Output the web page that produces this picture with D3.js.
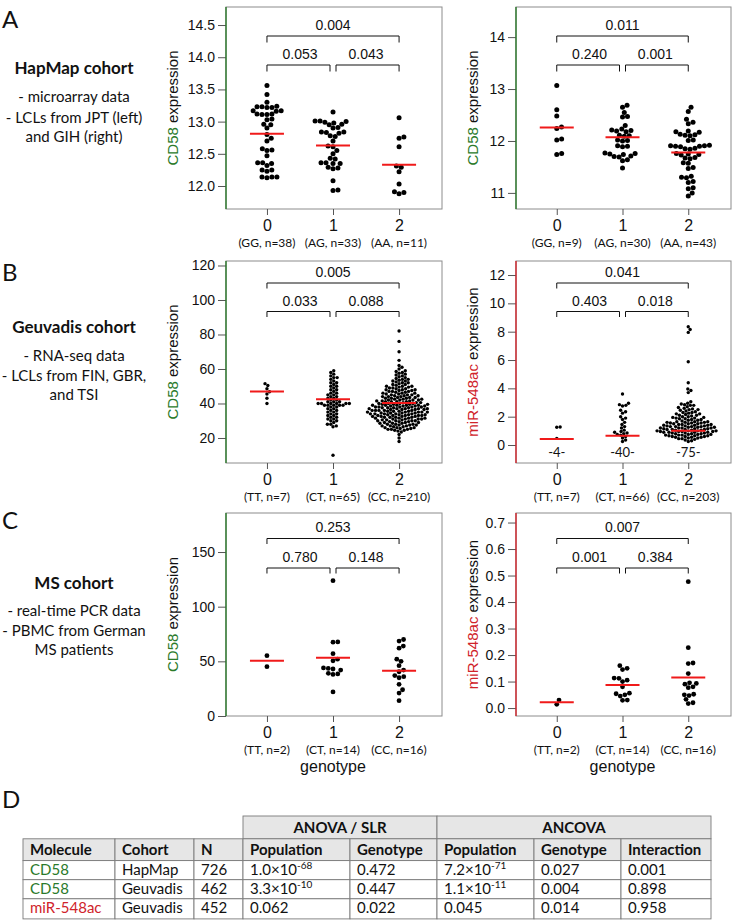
<!DOCTYPE html>
<html><head><meta charset="utf-8">
<script src="https://cdn.jsdelivr.net/npm/d3@7"></script>
<style>body{margin:0;background:#fff}</style>
</head><body>
<script>
// ---------------- DATA ----------------
const categories = ["0", "1", "2"];

// A: HapMap JPT (left) and GIH (right)
const jptGenotypes = ["(GG, n=38)", "(AG, n=33)", "(AA, n=11)"];
const jptG0 = [13.56,13.42,13.30,13.24,13.23,13.23,13.22,13.22,13.17,13.17,13.16,13.12,13.12,13.11,13.11,13.04,13.03,12.96,12.95,12.90,12.80,12.74,12.70,12.58,12.56,12.55,12.47,12.36,12.36,12.35,12.32,12.25,12.25,12.23,12.14,12.14,12.14,12.13];
const jptG1 = [13.15,13.01,13.01,13.0,12.99,12.98,12.96,12.95,12.91,12.90,12.84,12.84,12.83,12.82,12.78,12.77,12.70,12.62,12.61,12.55,12.50,12.43,12.42,12.36,12.36,12.35,12.35,12.29,12.28,12.27,12.08,11.94,11.93];
const jptG2 = [13.06,12.76,12.74,12.61,12.31,12.29,12.22,12.03,11.91,11.90,11.88];
const jptCenters = [12.81, 12.63, 12.33];
const jptP = ["0.053", "0.043", "0.004"];
const jptTicks = [12.0, 12.5, 13.0, 13.5, 14.0, 14.5];

const gihGenotypes = ["(GG, n=9)", "(AG, n=30)", "(AA, n=43)"];
const gihG0 = [13.07,12.60,12.48,12.27,12.24,12.04,12.02,11.76,11.74];
const gihG1 = [12.69,12.65,12.55,12.47,12.46,12.30,12.23,12.21,12.20,12.19,12.18,12.11,12.10,12.09,12.02,12.01,12.00,11.91,11.90,11.89,11.77,11.76,11.75,11.74,11.71,11.70,11.69,11.64,11.62,11.48];
const gihG2 = [12.65,12.57,12.42,12.36,12.33,12.19,12.18,12.17,12.13,12.12,12.11,12.10,12.02,12.01,11.92,11.91,11.91,11.90,11.90,11.89,11.86,11.85,11.84,11.76,11.75,11.74,11.73,11.68,11.67,11.66,11.58,11.57,11.49,11.47,11.32,11.30,11.29,11.22,11.20,11.10,11.08,11.00,10.94];
const gihCenters = [12.26, 12.07, 11.78];
const gihP = ["0.240", "0.001", "0.011"];
const gihTicks = [11, 12, 13, 14];

// B: Geuvadis CD58 (left) and miR-548ac (right)
const geuCdGenotypes = ["(TT, n=7)", "(CT, n=65)", "(CC, n=210)"];
const geuCdG0 = [51.5,50.4,48.5,46.8,45.5,43,40];
const geuCdG1 = [59,58,57,56,55,55,54,53,52,52,51,50,50,49,48,48,47,46,46,45,45,44,44,43,43,42,42,41,41,41,40,40,40,40,40,40,39,39,39,39,39,38,38,37,37,36,36,35,35,34,34,33,33,32,32,31,31,30,30,29,28,28,27,26.5,10];
const geuCdG2 = [82,76,70,65,62,61,
  60,59,58.5,58,57.5,57,56.5,56,55.5,55,
  54.5,54,54,53.5,53,53,52.5,52,52,51.5,51,51,50.5,50,50,50,
  49.5,49.5,49,49,48.5,48.5,48,48,48,47.5,47.5,47,47,47,46.5,46.5,46,46,46,45.5,45.5,45,45,45,
  44.5,44.5,44.5,44,44,44,43.5,43.5,43.5,43,43,43,42.5,42.5,42.5,42,42,42,42,41.5,41.5,41.5,41,41,41,41,40.5,40.5,40.5,40,40,40,40,
  39.5,39.5,39.5,39.5,39,39,39,39,39,38.5,38.5,38.5,38.5,38,38,38,38,38,37.5,37.5,37.5,37.5,37,37,37,37,37,36.5,36.5,36.5,36.5,36,36,36,36,36,35.5,35.5,35.5,35.5,35,35,35,35,35,
  34.5,34.5,34.5,34.5,34,34,34,34,34,33.5,33.5,33.5,33.5,33,33,33,33,33,32.5,32.5,32.5,32.5,32,32,32,32,31.5,31.5,31.5,31.5,31,31,31,31,30.5,30.5,30.5,30,30,30,30,
  29.5,29.5,29.5,29,29,29,28.5,28.5,28.5,28,28,28,27.5,27.5,27.5,27,27,27,26.5,26.5,26,26,26,25.5,25.5,25,25,25,
  24.5,24.5,24,23.5,22,20,18];
const geuCdCenters = [47, 42.5, 40.3];
const geuCdP = ["0.033", "0.088", "0.005"];
const geuCdTicks = [20, 40, 60, 80, 100, 120];

const geuMirGenotypes = ["(TT, n=7)", "(CT, n=66)", "(CC, n=203)"];
const geuMirHidden = ["-4-", "-40-", "-75-"];
const geuMirG0 = [1.27, 1.25, 0.47];
const geuMirG1 = [3.6,2.95,2.85,2.8,2.75,2.45,2.35,2.25,2.0,1.9,1.8,1.6,1.45,1.3,1.2,1.05,0.95,0.9,0.85,0.8,0.75,0.7,0.6,0.5,0.35,0.25];
const geuMirG2 = [8.35,8.15,7.95,5.88,4.4,3.95,3.85,3.7,
  3.05,2.95,2.9,2.85,2.8,2.8,
  2.7,2.65,2.6,2.55,2.5,2.5,2.45,
  2.4,2.35,2.3,2.3,2.25,2.2,2.2,2.15,2.1,2.1,
  2.05,2.0,2.0,1.95,1.95,1.9,1.9,1.85,1.85,1.8,1.8,1.75,1.75,1.7,
  1.65,1.65,1.65,1.6,1.6,1.6,1.55,1.55,1.55,1.5,1.5,1.5,1.45,1.45,1.45,1.4,1.4,1.4,1.35,1.35,1.35,
  1.3,1.3,1.3,1.3,1.25,1.25,1.25,1.2,1.2,1.2,1.2,1.15,1.15,1.15,1.1,1.1,1.1,1.1,1.05,1.05,1.05,1.0,1.0,1.0,1.0,0.95,0.95,0.95,0.95,
  0.9,0.9,0.9,0.9,0.85,0.85,0.85,0.8,0.8,0.8,0.75,0.75,0.75,0.7,0.7,0.7,0.65,0.65,0.65,0.6,0.6,0.6,0.55,0.55,0.55,0.5,0.5,
  0.45,0.45,0.4,0.35,0.3,0.25];
const geuMirCenters = [0.42, 0.65, 1.0];
const geuMirP = ["0.403", "0.018", "0.041"];
const geuMirTicks = [0, 2, 4, 6, 8, 10, 12];

// C: MS cohort CD58 (left) and miR-548ac (right)
const msGenotypes = ["(TT, n=2)", "(CT, n=14)", "(CC, n=16)"];
const msCdG0 = [55.2, 45.1];
const msCdG1 = [123.8,67.5,67.8,57,52,50.5,44,43.5,43,42,39,38.5,38,22];
const msCdG2 = [70,68.5,64,62,52,50,46,42,40.5,37,36,35,29,24,21,14];
const msCdCenters = [50.6, 53.2, 41.5];
const msCdP = ["0.780", "0.148", "0.253"];
const msCdTicks = [0, 50, 100, 150];

const msMirG0 = [0.030, 0.014];
const msMirG1 = [0.16,0.15,0.145,0.113,0.112,0.105,0.10,0.08,0.056,0.054,0.05,0.045,0.03,0.029];
const msMirG2 = [0.477,0.228,0.17,0.168,0.13,0.095,0.093,0.09,0.08,0.077,0.052,0.05,0.047,0.033,0.02,0.017];
const msMirCenters = [0.022, 0.087, 0.115];
const msMirP = ["0.001", "0.384", "0.007"];
const msMirTicks = [0.0, 0.1, 0.2, 0.3, 0.4, 0.5, 0.6, 0.7];

// Left descriptions
const cohortTitles = ["HapMap cohort", "Geuvadis cohort", "MS cohort"];
const cohortLines = [
  ["- microarray data", "- LCLs from JPT (left)", "and GIH (right)"],
  ["- RNA-seq data", "- LCLs from FIN, GBR,", "and TSI"],
  ["- real-time PCR data", "- PBMC from German", "MS patients"]
];
const panelLetters = ["A", "B", "C", "D"];

// D: table
const tableGroups = ["ANOVA / SLR", "ANCOVA"];
const tableHeaders = ["Molecule", "Cohort", "N", "Population", "Genotype", "Population", "Genotype", "Interaction"];
const tableMolecules = ["CD58", "CD58", "miR-548ac"];
const tableCohorts = ["HapMap", "Geuvadis", "Geuvadis"];
const tableN = ["726", "462", "452"];
const anovaPopulation = ["1.0×10^-68", "3.3×10^-10", "0.062"];
const anovaGenotype = ["0.472", "0.447", "0.022"];
const ancovaPopulation = ["7.2×10^-71", "1.1×10^-11", "0.045"];
const ancovaGenotype = ["0.027", "0.004", "0.014"];
const ancovaInteraction = ["0.001", "0.898", "0.958"];

// ---------------- DRAWING ----------------
const W = 734, H = 920;
const svg = d3.select("body").append("svg").attr("width", W).attr("height", H).style("display", "block");
const ARIAL = "'Liberation Sans', Arial, sans-serif";
const CAL = "Lato, 'Open Sans', sans-serif";
const GREEN = "#2b7a2b", RED = "#d0232a", MED = "#f01a1a", FRAME = "#8c8c8c";

function swarm(values, y, r) {
  const d = 2 * r;
  const pts = values.map(v => ({v, y: y(v)})).sort((a, b) => b.y - a.y);
  const placed = [];
  for (const p of pts) {
    const cands = [0];
    for (const q of placed) {
      const dy = Math.abs(q.y - p.y);
      if (dy < d) { const dx = Math.sqrt(d * d - dy * dy); cands.push(q.x + dx, q.x - dx); }
    }
    cands.sort((a, b) => Math.abs(a) - Math.abs(b));
    for (const c of cands) {
      if (placed.every(q => (q.x - c) ** 2 + (q.y - p.y) ** 2 >= d * d - 0.01)) { p.x = c; break; }
    }
    placed.push(p);
  }
  return placed;
}

function panel(cfg) {
  const x = d3.scaleLinear().domain([-0.62, 2.65]).range([cfg.left, cfg.right]);
  const y = d3.scaleLinear().domain(cfg.yDomain).range([cfg.bottom, cfg.top]);
  const g = svg.append("g");
  g.append("rect").attr("x", cfg.left).attr("y", cfg.top)
    .attr("width", cfg.right - cfg.left).attr("height", cfg.bottom - cfg.top)
    .attr("fill", "none").attr("stroke", FRAME).attr("stroke-width", 1);
  const ya = g.append("g").attr("transform", `translate(${cfg.left},0)`)
    .call(d3.axisLeft(y).tickValues(cfg.ticks).tickFormat(cfg.fmt).tickSize(8).tickPadding(3));
  ya.select(".domain").remove();
  ya.selectAll("line").attr("stroke", "#555");
  ya.selectAll("text").attr("font-family", ARIAL).attr("font-size", 14).attr("fill", "#111");
  g.append("line").attr("x1", cfg.left).attr("x2", cfg.left).attr("y1", cfg.top).attr("y2", cfg.bottom)
    .attr("stroke", cfg.color).attr("stroke-width", 1.4);

  const xa = g.append("g").attr("transform", `translate(0,${cfg.bottom})`)
    .call(d3.axisBottom(x).tickValues([0, 1, 2]).tickFormat(i => categories[i]).tickSize(6).tickPadding(5));
  xa.select(".domain").remove();
  xa.selectAll("line").attr("stroke", "#555");
  xa.selectAll("text").attr("font-family", ARIAL).attr("font-size", 16).attr("fill", "#111");

  g.selectAll(".geno").data(cfg.genotypes).join("text")
    .attr("x", (d, i) => x(i)).attr("y", cfg.bottom + 37.8)
    .attr("text-anchor", "middle").attr("font-family", CAL).attr("font-size", 12).attr("fill", "#111")
    .text(d => d);

  // y title
  const yc = (cfg.top + cfg.bottom) / 2;
  const t = g.append("text").attr("transform", `translate(${cfg.titleX},${yc}) rotate(-90)`)
    .attr("text-anchor", "middle").attr("dy", "0.35em").attr("font-family", ARIAL).attr("font-size", 15);
  t.append("tspan").attr("fill", cfg.color).text(cfg.title);
  t.append("tspan").attr("fill", "#111").text(" expression");

  // dots
  cfg.groups.forEach((vals, i) => {
    const pts = swarm(vals, y, cfg.r);
    g.append("g").selectAll("circle").data(pts).join("circle")
      .attr("cx", d => x(i) + d.x).attr("cy", d => d.y).attr("r", cfg.r).attr("fill", "#000");
  });
  // center lines
  g.selectAll(".med").data(cfg.centers).join("line")
    .attr("x1", (d, i) => x(i) - 17).attr("x2", (d, i) => x(i) + 17)
    .attr("y1", d => y(d)).attr("y2", d => y(d)).attr("stroke", MED).attr("stroke-width", 2);

  // hidden count labels
  if (cfg.hidden) {
    g.selectAll(".hid").data(cfg.hidden).join("text")
      .attr("x", (d, i) => x(i)).attr("y", cfg.bottom - 6)
      .attr("text-anchor", "middle").attr("font-family", CAL).attr("font-size", 13).attr("fill", "#111").text(d => d);
  }

  // brackets
  const b = cfg.br;
  const path = (x0, x1, yy) => `M${x0},${yy + b.drop}V${yy}H${x1}V${yy + b.drop}`;
  const brs = [
    [x(0), x(2), b.brTop],
    [x(0), x(1) - 3, b.brLow],
    [x(1) + 3, x(2), b.brLow]
  ];
  g.selectAll(".br").data(brs).join("path").attr("d", d => path(d[0], d[1], d[2]))
    .attr("fill", "none").attr("stroke", "#111").attr("stroke-width", 1);
  const labs = [
    [(x(0) + x(1)) / 2, b.labLow, cfg.p[0]],
    [(x(1) + x(2)) / 2, b.labLow, cfg.p[1]],
    [x(1), b.labTop, cfg.p[2]]
  ];
  g.selectAll(".pl").data(labs).join("text")
    .attr("x", d => d[0]).attr("y", d => d[1] + 5).attr("text-anchor", "middle")
    .attr("font-family", ARIAL).attr("font-size", 14).attr("fill", "#111").text(d => d[2]);

  if (cfg.xTitle) {
    g.append("text").attr("x", x(1)).attr("y", cfg.bottom + 55.5).attr("text-anchor", "middle")
      .attr("font-family", ARIAL).attr("font-size", 16).attr("fill", "#111").text(cfg.xTitle);
  }
}

const f1 = d3.format(".1f"), f0 = d3.format("d");
const brA = {labTop: 25, brTop: 36, labLow: 54, brLow: 65, drop: 6.5};
const brB = {labTop: 272, brTop: 283, labLow: 301, brLow: 311.5, drop: 5.5};
const brC = {labTop: 527, brTop: 538.5, labLow: 557, brLow: 568, drop: 5.5};

panel({left: 226, right: 442, top: 7, bottom: 209, yDomain: [11.643, 14.78], ticks: jptTicks, fmt: f1,
  color: GREEN, title: "CD58", titleX: 173, groups: [jptG0, jptG1, jptG2], centers: jptCenters,
  p: jptP, genotypes: jptGenotypes, r: 2.5, br: brA});
panel({left: 516, right: 731, top: 7, bottom: 209, yDomain: [10.69, 14.58], ticks: gihTicks, fmt: f0,
  color: GREEN, title: "CD58", titleX: 473, groups: [gihG0, gihG1, gihG2], centers: gihCenters,
  p: gihP, genotypes: gihGenotypes, r: 2.5, br: brA});
panel({left: 226, right: 442, top: 261, bottom: 463, yDomain: [5.5, 122.6], ticks: geuCdTicks, fmt: f0,
  color: GREEN, title: "CD58", titleX: 173, groups: [geuCdG0, geuCdG1, geuCdG2], centers: geuCdCenters,
  p: geuCdP, genotypes: geuCdGenotypes, r: 1.7, br: brB});
panel({left: 516, right: 731, top: 261, bottom: 463, yDomain: [-1.27, 12.99], ticks: geuMirTicks, fmt: f0,
  color: RED, title: "miR-548ac", titleX: 473, groups: [geuMirG0, geuMirG1, geuMirG2], centers: geuMirCenters,
  p: geuMirP, genotypes: geuMirGenotypes, r: 1.7, br: brB, hidden: geuMirHidden});
panel({left: 226, right: 442, top: 513, bottom: 716, yDomain: [0, 185.7], ticks: msCdTicks, fmt: f0,
  color: GREEN, title: "CD58", titleX: 173, groups: [msCdG0, msCdG1, msCdG2], centers: msCdCenters,
  p: msCdP, genotypes: msGenotypes, r: 2.4, br: brC, xTitle: "genotype"});
panel({left: 516, right: 731, top: 513, bottom: 716, yDomain: [-0.03, 0.736], ticks: msMirTicks, fmt: f1,
  color: RED, title: "miR-548ac", titleX: 473, groups: [msMirG0, msMirG1, msMirG2], centers: msMirCenters,
  p: msMirP, genotypes: msGenotypes, r: 2.4, br: brC, xTitle: "genotype"});

// panel letters
const letterY = [28, 281, 529, 808];
svg.selectAll(".let").data(panelLetters).join("text")
  .attr("x", 2).attr("y", (d, i) => letterY[i]).attr("font-family", CAL).attr("font-size", 24).attr("fill", "#111").text(d => d);

// cohort descriptions
const descY = [[74, 102, 123, 142], [333, 361, 381, 400], [589, 616, 636, 655]];
cohortTitles.forEach((tt, i) => {
  svg.append("text").attr("x", 74).attr("y", descY[i][0]).attr("text-anchor", "middle")
    .attr("font-family", CAL).attr("font-size", 17).attr("font-weight", "bold").attr("fill", "#111").text(tt);
  cohortLines[i].forEach((ln, j) => {
    svg.append("text").attr("x", 74).attr("y", descY[i][j + 1]).attr("text-anchor", "middle")
      .attr("font-family", CAL).attr("font-size", 15).attr("fill", "#111").text(ln);
  });
});

// table
const cols = [23, 115, 194, 243, 350, 437, 534, 621, 711];
const rows = [816, 838.8, 860.6, 879.7, 898.8, 918.9];
const TB = svg.append("g");
const GRAY = "#e6e6e6", TLINE = "#7a7a7a";
function cell(x0, x1, y0, y1, fill) {
  TB.append("rect").attr("x", x0).attr("y", y0).attr("width", x1 - x0).attr("height", y1 - y0)
    .attr("fill", fill).attr("stroke", TLINE).attr("stroke-width", 0.9);
}
function ctext(str, x, yy, opts) {
  const t = TB.append("text").attr("x", x).attr("y", yy).attr("font-family", CAL).attr("font-size", 15)
    .attr("fill", opts.color || "#111").attr("font-weight", opts.bold ? "bold" : "normal")
    .attr("text-anchor", opts.anchor || "start");
  const parts = str.split("^");
  t.append("tspan").text(parts[0]);
  if (parts[1]) t.append("tspan").attr("font-size", 10).attr("dy", -6).text(parts[1]);
}
cell(cols[3], cols[5], rows[0], rows[1], GRAY);
cell(cols[5], cols[8], rows[0], rows[1], GRAY);
ctext(tableGroups[0], (cols[3] + cols[5]) / 2, rows[0] + 16.5, {bold: true, anchor: "middle"});
ctext(tableGroups[1], (cols[5] + cols[8]) / 2, rows[0] + 16.5, {bold: true, anchor: "middle"});
tableHeaders.forEach((h, i) => {
  cell(cols[i], cols[i + 1], rows[1], rows[2], GRAY);
  ctext(h, cols[i] + 7, rows[1] + 16, {bold: true});
});
const tableCols = [tableMolecules, tableCohorts, tableN, anovaPopulation, anovaGenotype, ancovaPopulation, ancovaGenotype, ancovaInteraction];
for (let r = 0; r < 3; r++) {
  tableCols.forEach((col, c) => {
    cell(cols[c], cols[c + 1], rows[r + 2], rows[r + 3], "#fff");
    const color = c === 0 ? (col[r] === "CD58" ? GREEN : RED) : "#111";
    ctext(col[r], cols[c] + 7, rows[r + 2] + 14.5, {color});
  });
}
</script>
</body></html>
